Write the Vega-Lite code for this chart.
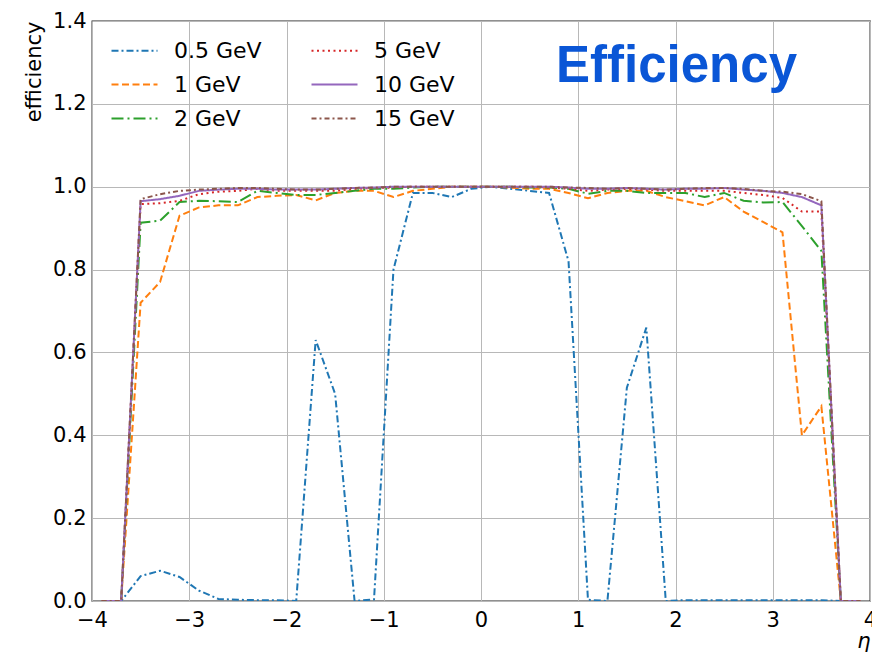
{
  "$schema": "https://vega.github.io/schema/vega-lite/v6.json",
  "width": 778,
  "height": 580,
  "autosize": {"type": "none"},
  "padding": {"left": 92, "top": 21, "right": 2, "bottom": 55},
  "background": "white",
  "config": {
    "view": {"stroke": "#222222", "strokeWidth": 1.3},
    "axis": {"labelFont": "DejaVu Sans", "labelFontSize": 21, "labelColor": "black", "titleFont": "DejaVu Sans", "titleFontSize": 21, "titleColor": "black", "titleFontWeight": "normal", "gridColor": "#b8b8b8", "gridWidth": 1, "domain": false, "ticks": false}
  },
  "title": {"text": "Efficiency", "anchor": "end", "frame": "group", "orient": "top", "dx": -73, "dy": 123, "baseline": "alphabetic", "offset": 0, "font": "Liberation Sans", "fontSize": 51, "fontWeight": "bold", "color": "#0a56d6"},
  "data": {"values": [
    {"s":"0.5 GeV","x":-3.9,"y":0},{"s":"0.5 GeV","x":-3.7,"y":0},{"s":"0.5 GeV","x":-3.5,"y":0.06},{"s":"0.5 GeV","x":-3.3,"y":0.073},{"s":"0.5 GeV","x":-3.1,"y":0.058},{"s":"0.5 GeV","x":-2.9,"y":0.025},{"s":"0.5 GeV","x":-2.7,"y":0.005},{"s":"0.5 GeV","x":-2.5,"y":0.003},{"s":"0.5 GeV","x":-2.3,"y":0.002},{"s":"0.5 GeV","x":-2.1,"y":0.002},{"s":"0.5 GeV","x":-1.9,"y":0},{"s":"0.5 GeV","x":-1.7,"y":0.63},{"s":"0.5 GeV","x":-1.5,"y":0.5},{"s":"0.5 GeV","x":-1.3,"y":0},{"s":"0.5 GeV","x":-1.1,"y":0.004},{"s":"0.5 GeV","x":-0.9,"y":0.8},{"s":"0.5 GeV","x":-0.7,"y":0.985},{"s":"0.5 GeV","x":-0.5,"y":0.985},{"s":"0.5 GeV","x":-0.3,"y":0.975},{"s":"0.5 GeV","x":-0.1,"y":0.995},{"s":"0.5 GeV","x":0.1,"y":1.0},{"s":"0.5 GeV","x":0.3,"y":0.995},{"s":"0.5 GeV","x":0.5,"y":0.99},{"s":"0.5 GeV","x":0.7,"y":0.985},{"s":"0.5 GeV","x":0.9,"y":0.82},{"s":"0.5 GeV","x":1.1,"y":0.003},{"s":"0.5 GeV","x":1.3,"y":0},{"s":"0.5 GeV","x":1.5,"y":0.515},{"s":"0.5 GeV","x":1.7,"y":0.66},{"s":"0.5 GeV","x":1.9,"y":0},{"s":"0.5 GeV","x":2.1,"y":0.002},{"s":"0.5 GeV","x":2.3,"y":0.002},{"s":"0.5 GeV","x":2.5,"y":0.002},{"s":"0.5 GeV","x":2.7,"y":0.002},{"s":"0.5 GeV","x":2.9,"y":0.002},{"s":"0.5 GeV","x":3.1,"y":0.002},{"s":"0.5 GeV","x":3.3,"y":0.002},{"s":"0.5 GeV","x":3.5,"y":0.002},{"s":"0.5 GeV","x":3.7,"y":0},{"s":"0.5 GeV","x":3.9,"y":0},
    {"s":"1 GeV","x":-3.9,"y":0},{"s":"1 GeV","x":-3.7,"y":0},{"s":"1 GeV","x":-3.5,"y":0.72},{"s":"1 GeV","x":-3.3,"y":0.77},{"s":"1 GeV","x":-3.1,"y":0.93},{"s":"1 GeV","x":-2.9,"y":0.95},{"s":"1 GeV","x":-2.7,"y":0.955},{"s":"1 GeV","x":-2.5,"y":0.955},{"s":"1 GeV","x":-2.3,"y":0.975},{"s":"1 GeV","x":-2.1,"y":0.978},{"s":"1 GeV","x":-1.9,"y":0.98},{"s":"1 GeV","x":-1.7,"y":0.967},{"s":"1 GeV","x":-1.5,"y":0.985},{"s":"1 GeV","x":-1.3,"y":0.99},{"s":"1 GeV","x":-1.1,"y":0.99},{"s":"1 GeV","x":-0.9,"y":0.975},{"s":"1 GeV","x":-0.7,"y":0.99},{"s":"1 GeV","x":-0.5,"y":0.995},{"s":"1 GeV","x":-0.3,"y":1.0},{"s":"1 GeV","x":-0.1,"y":1.0},{"s":"1 GeV","x":0.1,"y":1.0},{"s":"1 GeV","x":0.3,"y":0.998},{"s":"1 GeV","x":0.5,"y":0.995},{"s":"1 GeV","x":0.7,"y":0.995},{"s":"1 GeV","x":0.9,"y":0.985},{"s":"1 GeV","x":1.1,"y":0.972},{"s":"1 GeV","x":1.3,"y":0.985},{"s":"1 GeV","x":1.5,"y":0.99},{"s":"1 GeV","x":1.7,"y":0.99},{"s":"1 GeV","x":1.9,"y":0.975},{"s":"1 GeV","x":2.1,"y":0.965},{"s":"1 GeV","x":2.3,"y":0.955},{"s":"1 GeV","x":2.5,"y":0.975},{"s":"1 GeV","x":2.7,"y":0.94},{"s":"1 GeV","x":2.9,"y":0.915},{"s":"1 GeV","x":3.1,"y":0.89},{"s":"1 GeV","x":3.3,"y":0.4},{"s":"1 GeV","x":3.5,"y":0.47},{"s":"1 GeV","x":3.7,"y":0},{"s":"1 GeV","x":3.9,"y":0},
    {"s":"2 GeV","x":-3.9,"y":0},{"s":"2 GeV","x":-3.7,"y":0},{"s":"2 GeV","x":-3.5,"y":0.913},{"s":"2 GeV","x":-3.3,"y":0.918},{"s":"2 GeV","x":-3.1,"y":0.963},{"s":"2 GeV","x":-2.9,"y":0.966},{"s":"2 GeV","x":-2.7,"y":0.965},{"s":"2 GeV","x":-2.5,"y":0.963},{"s":"2 GeV","x":-2.3,"y":0.99},{"s":"2 GeV","x":-2.1,"y":0.985},{"s":"2 GeV","x":-1.9,"y":0.98},{"s":"2 GeV","x":-1.7,"y":0.98},{"s":"2 GeV","x":-1.5,"y":0.985},{"s":"2 GeV","x":-1.3,"y":0.99},{"s":"2 GeV","x":-1.1,"y":0.995},{"s":"2 GeV","x":-0.9,"y":0.995},{"s":"2 GeV","x":-0.7,"y":0.998},{"s":"2 GeV","x":-0.5,"y":1.0},{"s":"2 GeV","x":-0.3,"y":1.0},{"s":"2 GeV","x":-0.1,"y":1.0},{"s":"2 GeV","x":0.1,"y":1.0},{"s":"2 GeV","x":0.3,"y":1.0},{"s":"2 GeV","x":0.5,"y":0.998},{"s":"2 GeV","x":0.7,"y":0.998},{"s":"2 GeV","x":0.9,"y":0.995},{"s":"2 GeV","x":1.1,"y":0.983},{"s":"2 GeV","x":1.3,"y":0.99},{"s":"2 GeV","x":1.5,"y":0.99},{"s":"2 GeV","x":1.7,"y":0.985},{"s":"2 GeV","x":1.9,"y":0.985},{"s":"2 GeV","x":2.1,"y":0.985},{"s":"2 GeV","x":2.3,"y":0.975},{"s":"2 GeV","x":2.5,"y":0.985},{"s":"2 GeV","x":2.7,"y":0.966},{"s":"2 GeV","x":2.9,"y":0.962},{"s":"2 GeV","x":3.1,"y":0.963},{"s":"2 GeV","x":3.3,"y":0.905},{"s":"2 GeV","x":3.5,"y":0.845},{"s":"2 GeV","x":3.7,"y":0},{"s":"2 GeV","x":3.9,"y":0},
    {"s":"5 GeV","x":-3.9,"y":0},{"s":"5 GeV","x":-3.7,"y":0},{"s":"5 GeV","x":-3.5,"y":0.958},{"s":"5 GeV","x":-3.3,"y":0.96},{"s":"5 GeV","x":-3.1,"y":0.966},{"s":"5 GeV","x":-2.9,"y":0.982},{"s":"5 GeV","x":-2.7,"y":0.988},{"s":"5 GeV","x":-2.5,"y":0.99},{"s":"5 GeV","x":-2.3,"y":0.995},{"s":"5 GeV","x":-2.1,"y":0.99},{"s":"5 GeV","x":-1.9,"y":0.99},{"s":"5 GeV","x":-1.7,"y":0.99},{"s":"5 GeV","x":-1.5,"y":0.99},{"s":"5 GeV","x":-1.3,"y":0.995},{"s":"5 GeV","x":-1.1,"y":0.997},{"s":"5 GeV","x":-0.9,"y":0.998},{"s":"5 GeV","x":-0.7,"y":1.0},{"s":"5 GeV","x":-0.5,"y":1.0},{"s":"5 GeV","x":-0.3,"y":1.0},{"s":"5 GeV","x":-0.1,"y":1.0},{"s":"5 GeV","x":0.1,"y":1.0},{"s":"5 GeV","x":0.3,"y":1.0},{"s":"5 GeV","x":0.5,"y":1.0},{"s":"5 GeV","x":0.7,"y":0.998},{"s":"5 GeV","x":0.9,"y":0.995},{"s":"5 GeV","x":1.1,"y":0.99},{"s":"5 GeV","x":1.3,"y":0.993},{"s":"5 GeV","x":1.5,"y":0.995},{"s":"5 GeV","x":1.7,"y":0.993},{"s":"5 GeV","x":1.9,"y":0.99},{"s":"5 GeV","x":2.1,"y":0.99},{"s":"5 GeV","x":2.3,"y":0.99},{"s":"5 GeV","x":2.5,"y":0.99},{"s":"5 GeV","x":2.7,"y":0.985},{"s":"5 GeV","x":2.9,"y":0.98},{"s":"5 GeV","x":3.1,"y":0.973},{"s":"5 GeV","x":3.3,"y":0.94},{"s":"5 GeV","x":3.5,"y":0.94},{"s":"5 GeV","x":3.7,"y":0},{"s":"5 GeV","x":3.9,"y":0},
    {"s":"10 GeV","x":-3.9,"y":0},{"s":"10 GeV","x":-3.7,"y":0},{"s":"10 GeV","x":-3.5,"y":0.965},{"s":"10 GeV","x":-3.3,"y":0.97},{"s":"10 GeV","x":-3.1,"y":0.978},{"s":"10 GeV","x":-2.9,"y":0.99},{"s":"10 GeV","x":-2.7,"y":0.993},{"s":"10 GeV","x":-2.5,"y":0.995},{"s":"10 GeV","x":-2.3,"y":0.995},{"s":"10 GeV","x":-2.1,"y":0.993},{"s":"10 GeV","x":-1.9,"y":0.993},{"s":"10 GeV","x":-1.7,"y":0.993},{"s":"10 GeV","x":-1.5,"y":0.995},{"s":"10 GeV","x":-1.3,"y":0.997},{"s":"10 GeV","x":-1.1,"y":0.998},{"s":"10 GeV","x":-0.9,"y":1.0},{"s":"10 GeV","x":-0.7,"y":1.0},{"s":"10 GeV","x":-0.5,"y":1.0},{"s":"10 GeV","x":-0.3,"y":1.0},{"s":"10 GeV","x":-0.1,"y":1.0},{"s":"10 GeV","x":0.1,"y":1.0},{"s":"10 GeV","x":0.3,"y":1.0},{"s":"10 GeV","x":0.5,"y":1.0},{"s":"10 GeV","x":0.7,"y":1.0},{"s":"10 GeV","x":0.9,"y":0.998},{"s":"10 GeV","x":1.1,"y":0.995},{"s":"10 GeV","x":1.3,"y":0.995},{"s":"10 GeV","x":1.5,"y":0.997},{"s":"10 GeV","x":1.7,"y":0.995},{"s":"10 GeV","x":1.9,"y":0.993},{"s":"10 GeV","x":2.1,"y":0.995},{"s":"10 GeV","x":2.3,"y":0.995},{"s":"10 GeV","x":2.5,"y":0.997},{"s":"10 GeV","x":2.7,"y":0.993},{"s":"10 GeV","x":2.9,"y":0.99},{"s":"10 GeV","x":3.1,"y":0.985},{"s":"10 GeV","x":3.3,"y":0.975},{"s":"10 GeV","x":3.5,"y":0.955},{"s":"10 GeV","x":3.7,"y":0},{"s":"10 GeV","x":3.9,"y":0},
    {"s":"15 GeV","x":-3.9,"y":0},{"s":"15 GeV","x":-3.7,"y":0},{"s":"15 GeV","x":-3.5,"y":0.97},{"s":"15 GeV","x":-3.3,"y":0.982},{"s":"15 GeV","x":-3.1,"y":0.99},{"s":"15 GeV","x":-2.9,"y":0.993},{"s":"15 GeV","x":-2.7,"y":0.995},{"s":"15 GeV","x":-2.5,"y":0.997},{"s":"15 GeV","x":-2.3,"y":0.997},{"s":"15 GeV","x":-2.1,"y":0.995},{"s":"15 GeV","x":-1.9,"y":0.993},{"s":"15 GeV","x":-1.7,"y":0.993},{"s":"15 GeV","x":-1.5,"y":0.995},{"s":"15 GeV","x":-1.3,"y":0.997},{"s":"15 GeV","x":-1.1,"y":0.998},{"s":"15 GeV","x":-0.9,"y":1.0},{"s":"15 GeV","x":-0.7,"y":1.0},{"s":"15 GeV","x":-0.5,"y":1.0},{"s":"15 GeV","x":-0.3,"y":1.0},{"s":"15 GeV","x":-0.1,"y":1.0},{"s":"15 GeV","x":0.1,"y":1.0},{"s":"15 GeV","x":0.3,"y":1.0},{"s":"15 GeV","x":0.5,"y":1.0},{"s":"15 GeV","x":0.7,"y":1.0},{"s":"15 GeV","x":0.9,"y":0.998},{"s":"15 GeV","x":1.1,"y":0.997},{"s":"15 GeV","x":1.3,"y":0.995},{"s":"15 GeV","x":1.5,"y":0.997},{"s":"15 GeV","x":1.7,"y":0.995},{"s":"15 GeV","x":1.9,"y":0.993},{"s":"15 GeV","x":2.1,"y":0.995},{"s":"15 GeV","x":2.3,"y":0.997},{"s":"15 GeV","x":2.5,"y":0.997},{"s":"15 GeV","x":2.7,"y":0.995},{"s":"15 GeV","x":2.9,"y":0.99},{"s":"15 GeV","x":3.1,"y":0.988},{"s":"15 GeV","x":3.3,"y":0.982},{"s":"15 GeV","x":3.5,"y":0.965},{"s":"15 GeV","x":3.7,"y":0},{"s":"15 GeV","x":3.9,"y":0}
  ]},
  "mark": {"type": "line", "strokeWidth": 2, "clip": true},
  "encoding": {
    "x": {"field": "x", "type": "quantitative", "scale": {"domain": [-4, 4], "nice": false, "zero": false},
      "axis": {"values": [-4,-3,-2,-1,0,1,2,3,4], "format": "d", "title": "η", "titleAnchor": "end", "titleFontStyle": "italic", "titlePadding": 0, "labelPadding": 8, "labelFlush": false}},
    "y": {"field": "y", "type": "quantitative", "scale": {"domain": [0, 1.4], "nice": false},
      "axis": {"values": [0,0.2,0.4,0.6,0.8,1.0,1.2,1.4], "format": ".1f", "title": "efficiency", "titleAnchor": "end", "titlePadding": 8, "labelPadding": 6, "labelFlush": false}},
    "color": {"field": "s", "type": "nominal",
      "scale": {"domain": ["0.5 GeV","1 GeV","2 GeV","5 GeV","10 GeV","15 GeV"], "range": ["#1f77b4","#ff7f0e","#2ca02c","#d62728","#9467bd","#8c564b"]},
      "legend": {"orient": "none", "legendX": 30, "legendY": 17, "columns": 2, "title": null, "symbolType": "M-2,0H2", "symbolSize": 529, "symbolStrokeWidth": 2, "labelFont": "DejaVu Sans", "labelFontSize": 22, "labelColor": "black", "labelOffset": 27, "rowPadding": 10, "columnPadding": 45, "padding": 0}},
    "strokeDash": {"field": "s", "type": "nominal",
      "scale": {"domain": ["0.5 GeV","1 GeV","2 GeV","5 GeV","10 GeV","15 GeV"], "range": [[7,3,2,3],[7,3.5],[12,4,2,4],[2,3.5],[1,0],[5,3,2,3]]},
      "legend": {"orient": "none", "legendX": 30, "legendY": 17, "columns": 2, "title": null, "symbolType": "M-2,0H2", "symbolSize": 529, "symbolStrokeWidth": 2, "labelFont": "DejaVu Sans", "labelFontSize": 22, "labelColor": "black", "labelOffset": 27, "rowPadding": 10, "columnPadding": 45, "padding": 0}}
  }
}
